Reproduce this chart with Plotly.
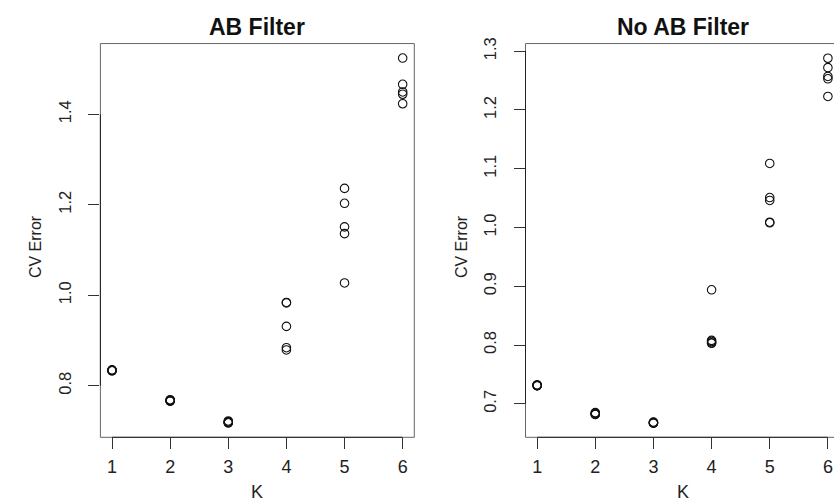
import plotly.graph_objects as go

# ---- data ----
K_LEFT = [1]*5 + [2]*5 + [3]*5 + [4]*5 + [5]*5 + [6]*5
CV_AB = [0.835, 0.834, 0.834, 0.833, 0.833,
         0.769, 0.768, 0.767, 0.766, 0.766,
         0.722, 0.720, 0.719, 0.718, 0.718,
         0.984, 0.983, 0.931, 0.884, 0.879,
         1.236, 1.203, 1.151, 1.136, 1.027,
         1.524, 1.466, 1.449, 1.444, 1.423]
K_RIGHT = [1]*5 + [2]*5 + [3]*5 + [4]*5 + [5]*5 + [6]*5
CV_NOAB = [0.732, 0.732, 0.731, 0.731, 0.731,
           0.685, 0.684, 0.683, 0.682, 0.682,
           0.669, 0.668, 0.668, 0.667, 0.667,
           0.894, 0.808, 0.806, 0.804, 0.803,
           1.109, 1.051, 1.046, 1.009, 1.008,
           1.288, 1.272, 1.257, 1.253, 1.223]
X_TICKS = [1, 2, 3, 4, 5, 6]
Y_TICKS_LEFT = [0.8, 1.0, 1.2, 1.4]
Y_TICKS_RIGHT = [0.7, 0.8, 0.9, 1.0, 1.1, 1.2, 1.3]
TITLES = ["AB Filter", "No AB Filter"]
X_TITLE = "K"
Y_TITLE = "CV Error"

FONT = "Liberation Sans, Arial, sans-serif"
W, H = 834, 504
YDOM = [67.5 / H, 466 / H]
XDOM_L = [100.4 / W, 414.3 / W]
XDOM_R = [525.5 / W, 1.0]

fig = go.Figure()
marker = dict(symbol="circle-open", size=8.5, color="#111", line=dict(width=1.1, color="#111"))
fig.add_trace(go.Scatter(x=K_LEFT, y=CV_AB, mode="markers", marker=marker,
                         xaxis="x", yaxis="y", showlegend=False))
fig.add_trace(go.Scatter(x=K_RIGHT, y=CV_NOAB, mode="markers", marker=marker,
                         xaxis="x2", yaxis="y2", showlegend=False))

common_x = dict(tickmode="array", tickvals=X_TICKS, ticks="outside", ticklen=11,
                tickwidth=1, tickcolor="#333", showgrid=False, zeroline=False,
                showline=False, tickfont=dict(family=FONT, size=18, color="#222"),
                fixedrange=True, ticklabelstandoff=2)
common_y = dict(ticks="outside", ticklen=11, tickwidth=1, tickcolor="#333",
                showgrid=False, zeroline=False, showline=False,
                tickfont=dict(family=FONT, size=16.5, color="#222"),
                tickangle=-90, tickformat=".1f", tickmode="array", fixedrange=True,
                ticklabelstandoff=11)

fig.update_layout(
    width=W, height=H,
    margin=dict(l=0, r=0, t=0, b=0),
    paper_bgcolor="white", plot_bgcolor="white",
    xaxis=dict(domain=XDOM_L, range=[0.8, 6.2], anchor="y", **common_x),
    yaxis=dict(domain=YDOM, range=[0.686, 1.556], anchor="x",
               tickvals=Y_TICKS_LEFT, **common_y),
    xaxis2=dict(domain=XDOM_R, range=[0.8, 6.105], anchor="y2", **common_x),
    yaxis2=dict(domain=YDOM, range=[0.643, 1.313], anchor="x2",
                tickvals=Y_TICKS_RIGHT, **common_y),
)

box_col = "#666"
axis_col = "#222"
shapes = []
# left panel box
shapes.append(dict(type="rect", xref="x domain", yref="y domain", x0=0, x1=1, y0=0, y1=1,
                   line=dict(color=box_col, width=1)))
# right panel box (right edge falls outside the picture)
for (x0, y0, x1, y1) in [(0, 0, 1.05, 0), (0, 1, 1.05, 1), (0, 0, 0, 1)]:
    shapes.append(dict(type="line", xref="x2 domain", yref="y2 domain",
                       x0=x0, y0=y0, x1=x1, y1=y1, line=dict(color=box_col, width=1)))
# axis lines spanning ticks (R style)
for xr, yr, yt in [("x", "y", Y_TICKS_LEFT), ("x2", "y2", Y_TICKS_RIGHT)]:
    shapes.append(dict(type="line", xref=xr, yref=yr + " domain", x0=X_TICKS[0], x1=X_TICKS[-1],
                       y0=0, y1=0, line=dict(color=axis_col, width=1)))
    shapes.append(dict(type="line", xref=xr + " domain", yref=yr, x0=0, x1=0,
                       y0=yt[0], y1=yt[-1], line=dict(color=axis_col, width=1)))
fig.update_layout(shapes=shapes)

ann = []
for cx, t in [(257, TITLES[0]), (683, TITLES[1])]:
    ann.append(dict(text="<b>%s</b>" % t, x=cx / W, y=1 - 21 / H, xref="paper", yref="paper",
                    showarrow=False, xanchor="center", yanchor="middle",
                    font=dict(family=FONT, size=23, color="#111")))
    ann.append(dict(text=X_TITLE, x=cx / W, y=1 - 492 / H, xref="paper", yref="paper",
                    showarrow=False, xanchor="center", yanchor="middle",
                    font=dict(family=FONT, size=18, color="#222")))
for cx in [35, 461]:
    ann.append(dict(text=Y_TITLE, x=cx / W, y=1 - 244 / H, xref="paper", yref="paper",
                    showarrow=False, xanchor="center", yanchor="middle", textangle=-90,
                    font=dict(family=FONT, size=16, color="#222")))
fig.update_layout(annotations=ann)

fig.write_html("out.html")
